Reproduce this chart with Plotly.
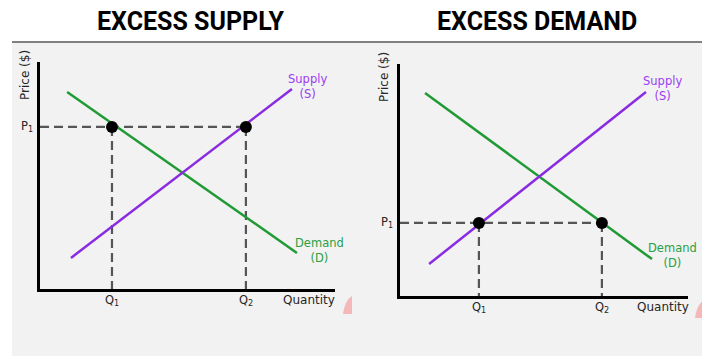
import plotly.graph_objects as go

W, H = 710, 356

# chart data (same axis scale 0..10 for both panels)
titles = ["EXCESS SUPPLY", "EXCESS DEMAND"]
demand_x = [[0.92, 8.71], [0.87, 8.75]]
demand_y = [[8.68, 1.59], [8.75, 1.59]]
supply_x = [[1.05, 8.54], [1.01, 8.54]]
supply_y = [[1.37, 8.81], [1.38, 8.79]]
p1 = [7.14, 3.15]
q1 = [2.44, 2.74]
q2 = [6.98, 7.01]

PURPLE = "#8a2be2"
GREEN = "#1f9a34"
DASH = "#555555"
TXT = "#262626"
SMALL = "DejaVu Sans"

# the page body has an 8px margin, so shift everything back by that much
OFF = 8


def px(x):
    return (x - OFF) / W


def py(y):
    return 1 - (y - OFF) / H


# pixel boxes of the two plot areas: left, right, bottom, top
boxes = [(40, 335, 289, 62), (400, 688, 296, 64)]

fig = go.Figure()
layout = dict(
    width=W, height=H, margin=dict(l=0, r=0, t=0, b=0),
    paper_bgcolor="white", plot_bgcolor="rgba(0,0,0,0)", showlegend=False,
)

shapes = [
    dict(type="rect", xref="paper", yref="paper", x0=px(12), x1=px(703), y0=-0.1, y1=py(43),
         fillcolor="#f2f2f2", line_width=0, layer="below"),
    dict(type="line", xref="paper", yref="paper", x0=px(12), x1=px(703), y0=py(42), y1=py(42),
         line=dict(color="#808080", width=2)),
]
annotations = []
C = dict(xanchor="center", yanchor="middle", showarrow=False)

for i in range(2):
    xa = "x" if i == 0 else "x2"
    ya = "y" if i == 0 else "y2"
    l, r, b, t = boxes[i]
    ax = dict(range=[0, 10], showgrid=False, zeroline=False, showticklabels=False,
              ticks="", showline=True, linecolor="black", linewidth=3, fixedrange=True)
    layout["xaxis" + ("" if i == 0 else "2")] = dict(ax, domain=[px(l), px(r)], anchor=ya)
    layout["yaxis" + ("" if i == 0 else "2")] = dict(ax, domain=[py(b), py(t)], anchor=xa)

    # dashed guides
    dash = dict(color=DASH, width=2.2, dash="9px,5px")
    fig.add_trace(go.Scatter(x=[0, q2[i]], y=[p1[i], p1[i]], mode="lines", line=dash,
                             xaxis=xa, yaxis=ya, hoverinfo="skip"))
    for q in (q1[i], q2[i]):
        fig.add_trace(go.Scatter(x=[q, q], y=[p1[i], 0], mode="lines", line=dash,
                                 xaxis=xa, yaxis=ya, hoverinfo="skip"))

    fig.add_trace(go.Scatter(x=demand_x[i], y=demand_y[i], mode="lines",
                             line=dict(color=GREEN, width=2.5), xaxis=xa, yaxis=ya))
    fig.add_trace(go.Scatter(x=supply_x[i], y=supply_y[i], mode="lines",
                             line=dict(color=PURPLE, width=2.5), xaxis=xa, yaxis=ya))
    fig.add_trace(go.Scatter(x=[q1[i], q2[i]], y=[p1[i], p1[i]], mode="markers",
                             marker=dict(color="black", size=12), xaxis=xa, yaxis=ya))

    # tick-like labels
    qy = py(b + 11)
    for name, q in (("Q<sub>1</sub>", q1[i]), ("Q<sub>2</sub>", q2[i])):
        annotations.append(dict(C, x=q, xref=xa, y=qy, yref="paper", text=name,
                                font=dict(family=SMALL, size=11.5, color=TXT)))
    annotations.append(dict(C, x=px(l - 13), xref="paper", y=p1[i], yref=ya, text="P<sub>1</sub>",
                            font=dict(family=SMALL, size=11.5, color=TXT)))

tfont = dict(family="Roboto", size=25, color="black")
lab = dict(family=SMALL, size=12, color=TXT)
small = dict(C, xref="paper", yref="paper")
annotations += [
    dict(small, x=px(190), y=py(22), text="<b>" + titles[0] + "</b>", font=tfont),
    dict(small, x=px(537), y=py(22), text="<b>" + titles[1] + "</b>", font=tfont),
    dict(small, x=px(309), y=py(300), text="Quantity", font=lab),
    dict(small, x=px(663), y=py(307), text="Quantity", font=lab),
    dict(small, x=px(25), y=py(75), text="Price ($)", textangle=-90, font=lab),
    dict(small, x=px(384), y=py(77), text="Price ($)", textangle=-90, font=lab),
    dict(small, x=px(307), y=py(86), text="Supply<br>(S)", font=dict(family=SMALL, size=11.5, color="#9b3cf2")),
    dict(small, x=px(662), y=py(89), text="Supply<br>(S)", font=dict(family=SMALL, size=11.5, color="#9b3cf2")),
    dict(small, x=px(319), y=py(250), text="Demand<br>(D)", font=dict(family=SMALL, size=11.5, color="#2aa043")),
    dict(small, x=px(672), y=py(255), text="Demand<br>(D)", font=dict(family=SMALL, size=11.5, color="#2aa043")),
]

# faint pink marks at the corners (from the source image)
for x0, y0 in ((343, 314), (695, 318)):
    shapes.append(dict(type="path", xref="paper", yref="paper",
                       path="M %f %f Q %f %f %f %f L %f %f Z" % (
                           px(x0), py(y0), px(x0 + 2), py(y0 - 14), px(x0 + 9), py(y0 - 18),
                           px(x0 + 9), py(y0)),
                       fillcolor="#f4a9a9", line_width=0, opacity=0.8))

layout["shapes"] = shapes
layout["annotations"] = annotations
fig.update_layout(**layout)
fig.write_html("out.html")
